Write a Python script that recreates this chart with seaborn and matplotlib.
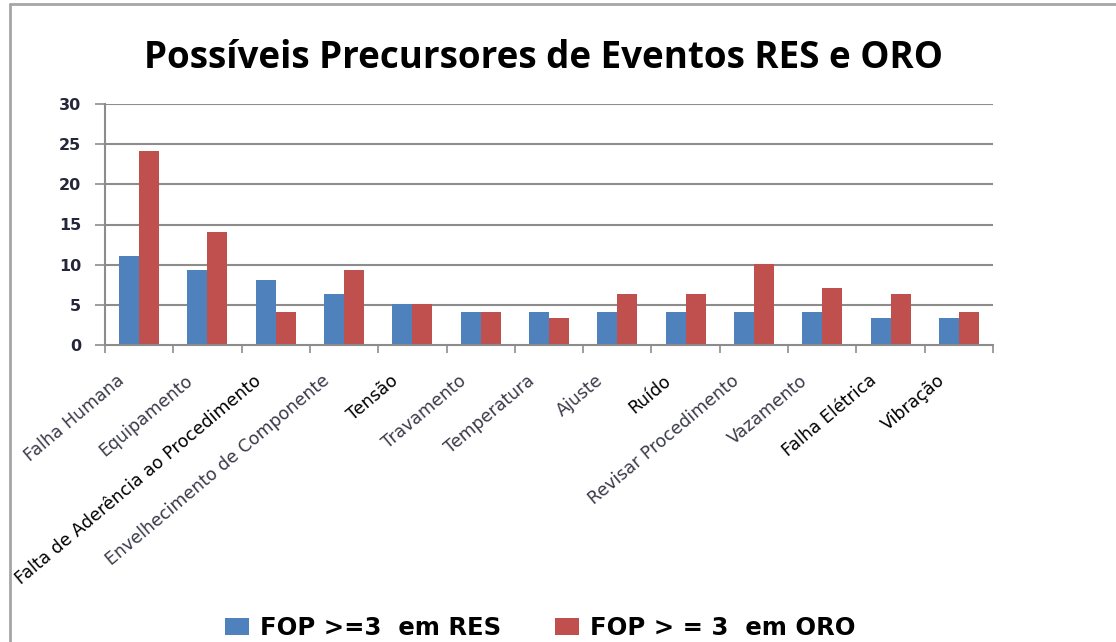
import numpy as np
import pandas as pd
import matplotlib
matplotlib.use("Agg")
import matplotlib.pyplot as plt
from matplotlib.lines import Line2D
from matplotlib.patches import Patch
from matplotlib.transforms import ScaledTranslation
import seaborn as sns

categorias = [
    "Falha Humana", "Equipamento", "Falta de Aderência ao Procedimento",
    "Envelhecimento de Componente", "Tensão", "Travamento", "Temperatura",
    "Ajuste", "Ruído", "Revisar Procedimento", "Vazamento", "Falha Elétrica",
    "Vibração",
]
res = [11.1, 9.3, 8.1, 6.3, 5.1, 4.1, 4.1, 4.1, 4.1, 4.1, 4.1, 3.4, 3.4]
oro = [24.1, 14.1, 4.1, 9.3, 5.1, 4.1, 3.4, 6.3, 6.3, 10.1, 7.1, 6.3, 4.1]
series = ["FOP >=3  em RES", "FOP > = 3  em ORO"]
cores = ["#4F81BD", "#C0504D"]
titulo = "Possíveis Precursores de Eventos RES e ORO"
yticks = [0, 5, 10, 15, 20, 25, 30]

df = pd.DataFrame({
    "categoria": categorias * 2,
    "valor": res + oro,
    "serie": [series[0]] * len(categorias) + [series[1]] * len(categorias),
})

sns.set_theme(style="white")
plt.rcParams["font.family"] = ["DejaVu Sans"]

W, H = 1116, 642
fig = plt.figure(figsize=(W / 100, H / 100), dpi=100)
ax = fig.add_axes([105 / W, 1 - 345 / H, (993 - 105) / W, (345 - 104) / H])

sns.barplot(data=df, x="categoria", y="valor", hue="serie", order=categorias,
            hue_order=series, palette=cores, width=0.585, saturation=1,
            edgecolor="none", ax=ax, legend=False)

grid_c = "#8C8C8C"
ax.set_xlim(-0.5, len(categorias) - 0.5)
ax.set_ylim(0, 30)
ax.set_yticks(yticks)
ax.set_yticklabels([str(v) for v in yticks], fontsize=11.5, color="#26263a",
                   fontweight="bold")
for v in yticks[1:]:
    ax.axhline(v, color=grid_c, lw=1.5, zorder=0)
ax.set_axisbelow(True)

for s in ["top", "right"]:
    ax.spines[s].set_visible(False)
for s in ["left", "bottom"]:
    ax.spines[s].set_color(grid_c)
    ax.spines[s].set_linewidth(1.5)

ax.tick_params(axis="y", which="major", length=7, width=1.2, color=grid_c,
               direction="out", pad=10, left=True)
ax.set_xticks(np.arange(len(categorias)))
ax.set_xticks(np.arange(-0.5, len(categorias), 1), minor=True)
ax.tick_params(axis="x", which="major", length=0, pad=24)
ax.tick_params(axis="x", which="minor", length=6, width=1.2, color=grid_c,
               direction="out", bottom=True)
ax.set_xticklabels(categorias, rotation=40, ha="right", va="center",
                   rotation_mode="anchor", fontsize=12.5, color="#3a3a4a")
shift = ScaledTranslation(-12 / 72, 0, fig.dpi_scale_trans)
for lab in ax.get_xticklabels():
    lab.set_transform(lab.get_transform() + shift)
    # accented labels are drawn darker
    if any(ch in lab.get_text() for ch in "ãíêé"):
        lab.set_color("#000000")
ax.set_xlabel("")
ax.set_ylabel("")

fig.text(543 / W, 1 - 58 / H, titulo, ha="center", va="center",
         fontsize=26.5, fontweight="bold", family="Open Sans", color="#000000")

handles = [Patch(facecolor=c, edgecolor="none") for c in cores]
leg = fig.legend(handles, series, loc="center",
                 bbox_to_anchor=(540 / W, 1 - 628 / H),
                 ncol=2, frameon=False,
                 prop={"family": "DejaVu Sans", "weight": "bold", "size": 17.5},
                 handlelength=1.0, handleheight=0.65, handletextpad=0.45,
                 columnspacing=2.2)
for t in leg.get_texts():
    t.set_color("#000000")

# chart-area frame
fig.add_artist(Line2D([10 / W, 1.0], [1 - 4 / H, 1 - 4 / H], color="#A6A6A6",
                      lw=2, transform=fig.transFigure))
fig.add_artist(Line2D([10 / W, 10 / W], [1 - 4 / H, 0], color="#A6A6A6",
                      lw=2, transform=fig.transFigure))

fig.savefig("out.png", dpi=100, facecolor="white")
